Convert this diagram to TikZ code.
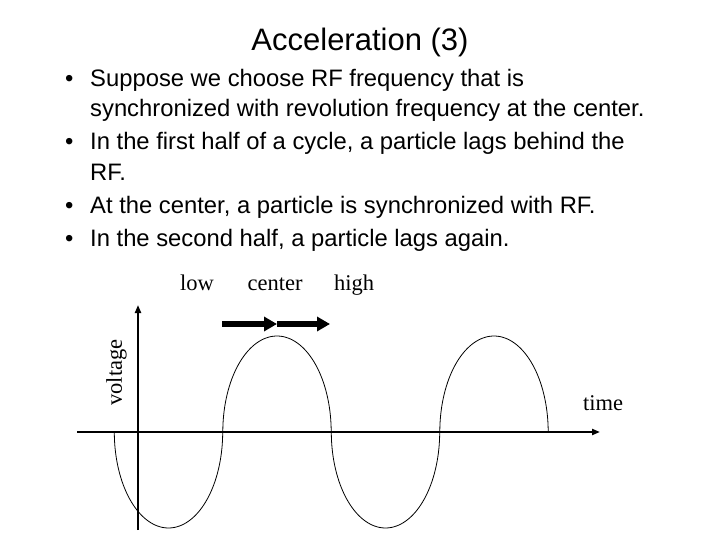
\documentclass[tikz,border=0pt]{standalone}
\usepackage{fontspec}
\setmainfont{Liberation Serif}
\newfontfamily\slidesans{Liberation Sans}
\usepackage{xcolor}
\definecolor{inkblack}{RGB}{0,0,0}
\usetikzlibrary{arrows.meta}

\begin{document}
\begin{tikzpicture}[x=1pt, y=-1pt,
  axisline/.style={line width=2pt, inkblack, -{Triangle[length=8pt, width=6pt]}},
  wave/.style={line width=0.8pt, inkblack},
  fatarrow/.style={line width=6pt, inkblack, -{Triangle[length=13pt, width=14pt]}},
  bulletline/.style={anchor=base west, inner sep=0pt, font=\slidesans\fontsize{23.8}{28}\selectfont},
  axislabel/.style={inner sep=0pt, font=\fontsize{22.5}{26}\selectfont}]
  \useasboundingbox (0,0) rectangle (720,540);

  % Title
  \node[anchor=base, inner sep=0pt, font=\slidesans\fontsize{31}{36}\selectfont] (title) at (360,51) {Acceleration (3)};

  % Bullet list
  \node[bulletline] (b1) at (65,87) {\textbullet};
  \node[bulletline] (l1) at (90,87) {Suppose we choose RF frequency that is};
  \node[bulletline] (l2) at (90,117) {synchronized with revolution frequency at the center.};
  \node[bulletline] (b2) at (65,150) {\textbullet};
  \node[bulletline] (l3) at (90,150) {In the first half of a cycle, a particle lags behind the};
  \node[bulletline] (l4) at (90,181) {RF.};
  \node[bulletline] (b3) at (65,214) {\textbullet};
  \node[bulletline] (l5) at (90,214) {At the center, a particle is synchronized with RF.};
  \node[bulletline] (b4) at (65,246) {\textbullet};
  \node[bulletline] (l6) at (90,246) {In the second half, a particle lags again.};

  % Axes
  \coordinate (torigin) at (77,432);
  \coordinate (tend) at (600,432);
  \coordinate (vorigin) at (138,530);
  \coordinate (vend) at (138,305);
  \draw[axisline] (torigin) -- (tend);
  \draw[axisline] (vorigin) -- (vend);
  \node[axislabel, rotate=90] (voltage) at (116.5,372.5) {voltage};
  \node[axislabel, anchor=base] (time) at (603,410) {time};

  % RF wave, half cycles
  \foreach \c/\s in {168.5/1, 277/-1, 385.5/1, 494/-1}
    \draw[wave] plot[domain=0:180, samples=70, variable=\t]
      ({\c-54.2*cos(\t)}, {432+\s*96*sin(\t)});

  % Phase labels
  \node[axislabel, anchor=base] (low) at (197,290) {low};
  \node[axislabel, anchor=base] (center) at (275,290) {center};
  \node[axislabel, anchor=base] (high) at (354,290) {high};

  % Particle arrows
  \coordinate (pstart) at (222,324);
  \coordinate (pmid) at (277,324);
  \coordinate (pend) at (330,324);
  \draw[fatarrow] (pstart) -- (pmid);
  \draw[fatarrow] (pmid) -- (pend);
\end{tikzpicture}
\end{document}
